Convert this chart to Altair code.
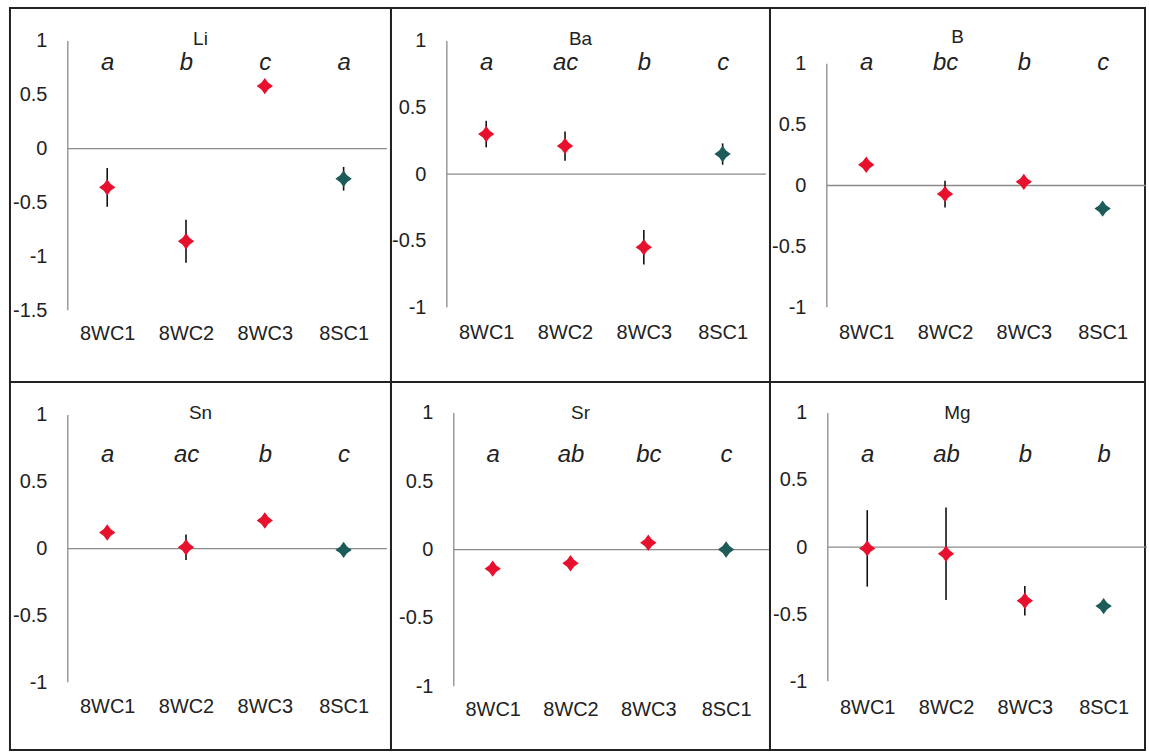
import altair as alt
import pandas as pd

FONT = "Liberation Sans"

categories = ["8WC1", "8WC2", "8WC3", "8SC1"]
elements = ["Li", "Ba", "B", "Sn", "Sr", "Mg"]

li_mean = [-0.36, -0.86, 0.58, -0.28]
li_err = [0.18, 0.20, 0.04, 0.11]
li_letters = ["a", "b", "c", "a"]

ba_mean = [0.30, 0.21, -0.55, 0.15]
ba_err = [0.10, 0.11, 0.13, 0.08]
ba_letters = ["a", "ac", "b", "c"]

b_mean = [0.17, -0.07, 0.03, -0.19]
b_err = [0.05, 0.11, 0.04, 0.03]
b_letters = ["a", "bc", "b", "c"]

sn_mean = [0.12, 0.01, 0.21, -0.01]
sn_err = [0.04, 0.095, 0.05, 0.03]
sn_letters = ["a", "ac", "b", "c"]

sr_mean = [-0.14, -0.10, 0.05, 0.0]
sr_err = [0.04, 0.04, 0.04, 0.05]
sr_letters = ["a", "ab", "bc", "c"]

mg_mean = [-0.01, -0.05, -0.40, -0.44]
mg_err = [0.285, 0.345, 0.11, 0.04]
mg_letters = ["a", "ab", "b", "b"]

ticks_li = [-1.5, -1, -0.5, 0, 0.5, 1]
ticks_std = [-1, -0.5, 0, 0.5, 1]

series = {
    "Li": (li_mean, li_err, li_letters, ticks_li),
    "Ba": (ba_mean, ba_err, ba_letters, ticks_std),
    "B": (b_mean, b_err, b_letters, ticks_std),
    "Sn": (sn_mean, sn_err, sn_letters, ticks_std),
    "Sr": (sr_mean, sr_err, sr_letters, ticks_std),
    "Mg": (mg_mean, mg_err, mg_letters, ticks_std),
}

# layout (pixels inside each bordered cell)
layout = {
    "Li": dict(W=382, H=375, axis_x=58, band=79, py_top=33, py_bot=303, label_ly=326, letter_ly=55, title_ly=30),
    "Ba": dict(W=380, H=375, axis_x=56, band=79, py_top=33, py_bot=300, label_ly=325, letter_ly=55, title_ly=30),
    "B": dict(W=376, H=375, axis_x=57, band=79, py_top=56, py_bot=300, label_ly=325, letter_ly=55, title_ly=28),
    "Sn": dict(W=382, H=369, axis_x=58, band=79, py_top=33, py_bot=301, label_ly=325, letter_ly=73, title_ly=30),
    "Sr": dict(W=380, H=369, axis_x=63, band=78, py_top=31, py_bot=305, label_ly=328, letter_ly=73, title_ly=30),
    "Mg": dict(W=376, H=369, axis_x=58, band=79, py_top=31, py_bot=300, label_ly=326, letter_ly=73, title_ly=30),
}

red = {"Li": "#e8112d", "Ba": "#e0143c", "B": "#dc1446", "Sn": "#e8112d", "Sr": "#e8112d", "Mg": "#dc1450"}
sc_col = {"Li": "#1d5c58", "Ba": "#1d5c58", "B": "#237553", "Sn": "#1d5c58", "Sr": "#2a62a0", "Mg": "#1f6585"}

SHAPE = "M0,-1L0.42,-0.42L1,0L0.42,0.42L0,1L-0.42,0.42L-1,0L-0.42,-0.42Z"
TITLE_SHIFT = 20


def panel(name):
    means, errs, letters, ticks = series[name]
    lay = layout[name]
    W, H = lay["W"], lay["H"]
    k = (lay["py_bot"] - lay["py_top"]) / (ticks[-1] - ticks[0])
    y_hi = ticks[-1] + lay["py_top"] / k
    y_lo = ticks[0] - (H - lay["py_bot"]) / k
    x_lo = 0.5 - lay["axis_x"] / lay["band"]
    x_hi = 0.5 + (W - lay["axis_x"]) / lay["band"]
    xs = alt.Scale(domain=[x_lo, x_hi], nice=False, zero=False)
    ys = alt.Scale(domain=[y_lo, y_hi], nice=False, zero=False)

    df = pd.DataFrame({
        "pos": [1, 2, 3, 4],
        "cat": categories,
        "mean": means,
        "lo": [m - e for m, e in zip(means, errs)],
        "hi": [m + e for m, e in zip(means, errs)],
        "letter": letters,
    })
    letter_expr = "[" + ",".join("'%s'" % l for l in letters) + "][datum.value-1]"
    cat_expr = "[" + ",".join("'%s'" % c for c in categories) + "][datum.value-1]"

    yline = alt.Chart(pd.DataFrame({"x": [0.5], "y": [ticks[0]], "y2": [ticks[-1]]})).mark_rule(
        color="#8a8a8a", strokeWidth=1.3
    ).encode(
        x=alt.X("x:Q", scale=xs, axis=None),
        y=alt.Y("y:Q", scale=ys, axis=None),
        y2="y2:Q",
    )
    zline = alt.Chart(pd.DataFrame({"x": [0.5], "x2": [4.55], "y": [0]})).mark_rule(
        color="#8a8a8a", strokeWidth=1.3
    ).encode(
        x=alt.X("x:Q", scale=xs, axis=None),
        x2="x2:Q",
        y=alt.Y("y:Q", scale=ys, axis=None),
    )
    err = alt.Chart(df).mark_rule(color="#111111", strokeWidth=1.6).encode(
        x=alt.X("pos:Q", scale=xs, axis=alt.Axis(
            orient="top", values=[1, 2, 3, 4], labelExpr=letter_expr, offset=-lay["letter_ly"],
            labelPadding=0, ticks=False, tickSize=0, domain=False, grid=False, title=None,
            labelBaseline="middle", labelFontSize=24, labelFontStyle="italic", labelFont=FONT,
            labelColor="#222222", labelFlush=False, labelOverlap=False)),
        y=alt.Y("lo:Q", scale=ys, axis=None),
        y2="hi:Q",
    )
    pts = alt.Chart(df).mark_point(shape=SHAPE, filled=True, size=270, opacity=1, strokeWidth=0).encode(
        x=alt.X("pos:Q", scale=xs, axis=alt.Axis(
            orient="bottom", values=[1, 2, 3, 4], labelExpr=cat_expr, offset=-(H - lay["label_ly"]),
            labelPadding=0, ticks=False, tickSize=0, domain=False, grid=False, title=None,
            labelBaseline="middle", labelFontSize=20, labelFont=FONT, labelColor="#222222",
            labelFlush=False, labelOverlap=False)),
        y=alt.Y("mean:Q", scale=ys, axis=alt.Axis(
            orient="left", values=ticks, labelExpr="toString(datum.value)", offset=-(lay["axis_x"] - 21),
            labelPadding=0, ticks=False, tickSize=0, domain=False, grid=False, title=None,
            labelFontSize=20, labelFont=FONT, labelColor="#222222", labelFlush=False, labelOverlap=False)),
        color=alt.Color("cat:N", scale=alt.Scale(domain=categories, range=[red[name]] * 3 + [sc_col[name]]), legend=None),
    )
    return alt.layer(yline, zline, err, pts).resolve_axis(x="independent", y="independent").properties(
        width=W, height=H,
        title=alt.TitleParams(name, anchor="middle", frame="group", offset=-(lay["title_ly"] + TITLE_SHIFT),
                              baseline="middle", fontSize=19, fontWeight="normal", font=FONT, color="#222222"),
    )


chart = alt.concat(*[panel(n) for n in elements], columns=3, spacing=0, bounds="flush", align="each").properties(
    padding={"left": 9, "top": 6, "right": 0, "bottom": 0},
    background="white",
).configure_view(stroke="#222222", strokeWidth=2)

chart.save("out.html", embed_options={"renderer": "svg", "actions": False})
